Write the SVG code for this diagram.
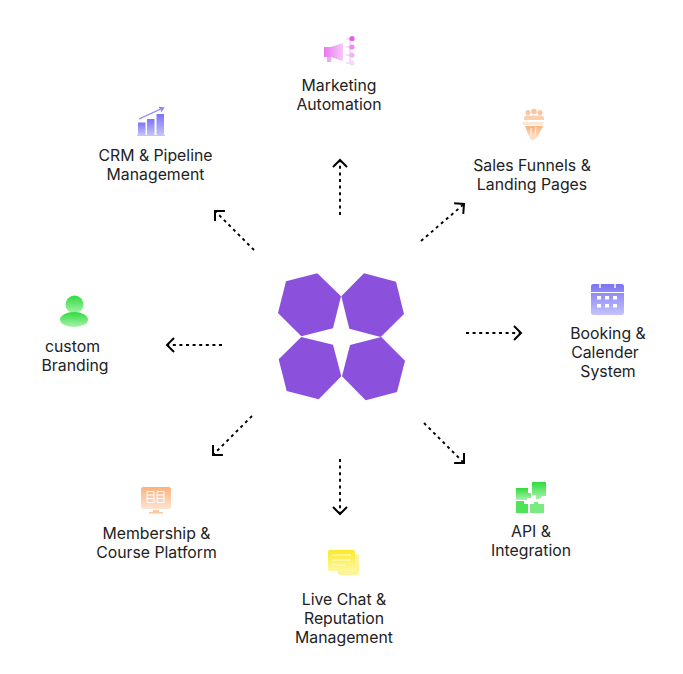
<svg xmlns="http://www.w3.org/2000/svg" width="683" height="674" viewBox="0 0 683 674">
<style>
text{font-family:Inter,"Liberation Sans",sans-serif;font-size:15.8px;fill:#222;text-anchor:middle}
.c{fill:none;stroke:#000;stroke-width:1.9;stroke-dasharray:3 3.6;marker-end:url(#h)}
.p{fill:#8b50dc}
</style>
<defs>
<marker id="h" markerUnits="userSpaceOnUse" markerWidth="20" markerHeight="20" refX="10" refY="10" orient="auto" overflow="visible"><path d="M3,3L10,10L3,17" fill="none" stroke="#000" stroke-width="2"/></marker>
<linearGradient id="gM" x1="0" y1="0" x2="1" y2="0"><stop offset="0" stop-color="#e878ee"/><stop offset="1" stop-color="#f6c8f8"/></linearGradient>
<linearGradient id="gB" x1="0" y1="0" x2="0" y2="1"><stop offset="0" stop-color="#7b74f5"/><stop offset="1" stop-color="#c5c3fb"/></linearGradient>
<linearGradient id="gO" x1="0" y1="0" x2="0" y2="1"><stop offset="0" stop-color="#fbb27e"/><stop offset="1" stop-color="#fde4d2"/></linearGradient>
<linearGradient id="gG" x1="0" y1="0" x2="0" y2="1"><stop offset="0" stop-color="#2fdc3c"/><stop offset="1" stop-color="#a8f2ad"/></linearGradient>
<linearGradient id="gY" x1="0" y1="0" x2="0" y2="1"><stop offset="0" stop-color="#fbe92a"/><stop offset="1" stop-color="#fdf7a0"/></linearGradient>
</defs>
<g id="connectors">
<path class="c" d="M340,215V160"/>
<path class="c" d="M254,250L215,211"/>
<path class="c" d="M421,241L464,204"/>
<path class="c" d="M466,333H521"/>
<path class="c" d="M222,345H167"/>
<path class="c" d="M252,416L213,455"/>
<path class="c" d="M340,459V514"/>
<path class="c" d="M424,423L464,463"/>
</g>
<g id="hub">
<polygon class="p" points="317.3,273.3 286,281.3 278,313 301.3,336.3 333,328.3 341,296.3"/>
<polygon class="p" points="364,273.3 396,281.7 404,314 380.7,337 349.3,328.7 341.3,296.3"/>
<polygon class="p" points="301.3,337 333,344.7 341.3,376.3 318.7,399.3 286.7,391 278.7,359.3"/>
<polygon class="p" points="381.3,337 405,360.7 397,392 365.7,400.3 342,376.3 350,345"/>
</g>
<g id="marketing">
<path fill="url(#gM)" d="M324,47h7l12,-4v18l-12,-4h-7z"/>
<rect x="327" y="57" width="4" height="5" fill="#f0a8f4"/>
<path d="M346,39H350V63M346,47H351M346,55H351M346,63H351" fill="none" stroke="#f2b8f5"/>
<circle cx="352" cy="38.500" r="2.600" fill="#e25fea"/><circle cx="352" cy="47" r="2.600" fill="#e88cee"/><circle cx="352" cy="55" r="2.600" fill="#f0b4f4"/><circle cx="352" cy="63" r="2.600" fill="#f7d8f9"/>
<text x="339" y="91">Marketing</text><text x="339" y="110">Automation</text>
</g>
<g id="crm">
<rect x="138" y="122.500" width="7.500" height="13" fill="url(#gB)"/><rect x="147" y="119" width="7.500" height="16.500" fill="url(#gB)"/><rect x="156.500" y="114" width="7.500" height="21.500" fill="url(#gB)"/>
<rect x="137" y="135" width="28" height="1" fill="#c5c3fb"/>
<path d="M139,119L163,108M159,107.500L163.500,108L161,111.500" fill="none" stroke="#8a80f0" stroke-width="1.300"/>
<text x="155.500" y="161">CRM &amp; Pipeline</text><text x="155.500" y="180">Management</text>
</g>
<g id="funnels">
<circle cx="528" cy="112.500" r="2.500" fill="#fac6a0"/><circle cx="534" cy="111.500" r="2.800" fill="#fac6a0"/><circle cx="540" cy="112.500" r="2.500" fill="#fac6a0"/>
<path fill="#fbd0b0" d="M524,117c2,-2 5,-2 7,-1c2,-1 4,-1 6,0c2,-1 5,-1 7,1v3h-20z"/>
<path fill="#fde6d6" d="M522,122h22l-1,3h-20z"/>
<path fill="url(#gO)" d="M525,126h18l-5,10l-4,4h-3l-3,-6z"/>
<path d="M531,128v9M536,127l-1,9" stroke="#fbf0e8" stroke-width="1.200" fill="none"/>
<text x="532" y="171">Sales Funnels &amp;</text><text x="532" y="190">Landing Pages</text>
</g>
<g id="booking">
<rect x="591" y="284" width="33" height="31" rx="2.500" fill="url(#gB)"/>
<rect x="591" y="292" width="33" height="1" fill="#fff"/>
<path d="M600,283v5M615,283v5" stroke="#fff" stroke-width="1.500"/>
<g fill="#fff"><rect x="597" y="296" width="4" height="3.500"/><rect x="605" y="296" width="4" height="3.500"/><rect x="613" y="296" width="4" height="3.500"/><rect x="597" y="304" width="4" height="3.500"/><rect x="605" y="304" width="4" height="3.500"/><rect x="613" y="304" width="4" height="3.500"/></g>
<text x="608" y="339">Booking &amp;</text><text x="605" y="358">Calender</text><text x="608" y="377">System</text>
</g>
<g id="branding">
<circle cx="74.500" cy="304.500" r="9" fill="url(#gG)"/>
<ellipse cx="74" cy="319.500" rx="14" ry="7.500" fill="url(#gG)"/>
<text x="72.500" y="352">custom</text><text x="75" y="371">Branding</text>
</g>
<g id="membership">
<rect x="141" y="487" width="30" height="22" rx="2" fill="url(#gO)"/>
<path d="M153,510h6v2h4v1.500h-14v-1.500h4z" fill="#fbc8a2"/>
<path d="M147,491.500h7v11h-7zM157,491.500h7v11h-7zM147,495h7M147,498.500h7M157,495h7M157,498.500h7" fill="none" stroke="#fff" stroke-width="1"/>
<text x="156.500" y="539">Membership &amp;</text><text x="156.500" y="558">Course Platform</text>
</g>
<g id="api">
<path fill="url(#gG)" d="M532,482h14v14h-4l-2,3h-4v-4h-4z"/>
<path fill="url(#gG)" d="M516,488h12v5h3v5h-4v2h-11z"/>
<path fill="#50e35a" d="M516,501h8v3h4v9h-12z"/>
<path fill="#7aea82" d="M530,504h4v-2h4v2h6v9h-14z"/>
<text x="531" y="537">API &amp;</text><text x="531" y="556">Integration</text>
</g>
<g id="livechat">
<rect x="338" y="554" width="21" height="21" rx="2" fill="#fdf49a"/>
<rect x="328" y="550" width="27" height="21" rx="2" fill="url(#gY)"/>
<path d="M332,555h19M332,560h19M332,565h13" stroke="#fffbd0" stroke-width="1.100" fill="none"/>
<text x="344" y="605">Live Chat &amp;</text><text x="344" y="624">Reputation</text><text x="344" y="643">Management</text>
</g>
</svg>
